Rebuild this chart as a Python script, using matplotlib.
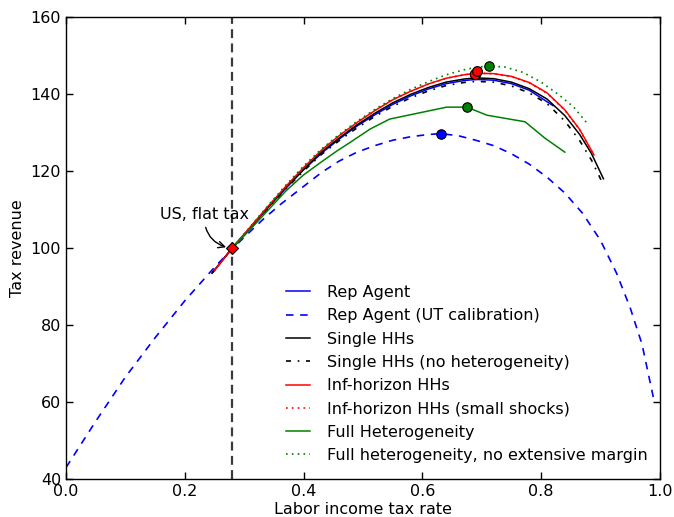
import matplotlib
matplotlib.use('Agg')
import matplotlib.pyplot as plt

# tax rate grids and revenue curves
rep_ut_x = [0.0, 0.05, 0.1, 0.15, 0.2, 0.25, 0.28, 0.3, 0.33, 0.36, 0.4, 0.43, 0.46, 0.49,
            0.52, 0.55, 0.58, 0.61, 0.631, 0.66, 0.69, 0.72, 0.75, 0.78, 0.81, 0.84, 0.87,
            0.9, 0.927, 0.95, 0.97, 0.99]
rep_ut_y = [43.0, 55.0, 66.5, 76.7, 86.3, 95.0, 99.8, 102.8, 107.2, 111.2, 116.0, 119.6,
            122.6, 124.9, 126.6, 128.0, 128.9, 129.5, 129.7, 129.2, 128.0, 126.6, 124.5,
            121.8, 118.4, 114.3, 109.0, 102.0, 93.5, 84.5, 75.0, 60.5]

single_x = [0.246, 0.28, 0.31, 0.34, 0.37, 0.4, 0.43, 0.46, 0.49, 0.52, 0.55, 0.58, 0.61,
            0.64, 0.67, 0.69, 0.72, 0.75, 0.78, 0.81, 0.84, 0.865, 0.885, 0.905]
single_y = [93.5, 100.0, 105.3, 110.6, 115.7, 120.5, 124.9, 128.6, 132.0, 135.0, 137.7,
            139.9, 141.7, 143.1, 143.9, 144.2, 144.0, 143.1, 141.4, 138.7, 134.4, 129.5,
            124.5, 118.0]
single_nohet_y = [93.5, 100.0, 105.1, 110.3, 115.3, 120.0, 124.3, 127.9, 131.2, 134.2,
                  136.8, 139.0, 140.8, 142.2, 143.0, 143.3, 143.1, 142.1, 140.3, 137.5,
                  133.0, 127.9, 122.8, 116.4]

rep_x = [0.246, 0.28, 0.31, 0.34, 0.37, 0.4, 0.43, 0.46, 0.49, 0.52, 0.55, 0.58, 0.61,
         0.64, 0.67, 0.69, 0.72, 0.75, 0.78, 0.82]
rep_y = [93.5, 100.0, 105.2, 110.5, 115.5, 120.3, 124.6, 128.3, 131.7, 134.6, 137.3,
         139.5, 141.3, 142.7, 143.5, 143.8, 143.6, 142.7, 141.0, 137.0]

inf_x = [0.25, 0.28, 0.31, 0.34, 0.37, 0.4, 0.43, 0.46, 0.49, 0.52, 0.55, 0.58, 0.61,
         0.64, 0.67, 0.69, 0.72, 0.75, 0.78, 0.81, 0.84, 0.865, 0.889]
inf_y = [94.2, 100.0, 105.4, 110.8, 116.0, 120.9, 125.4, 129.2, 132.6, 135.7, 138.5,
         140.7, 142.6, 144.1, 145.0, 145.4, 145.3, 144.6, 143.0, 140.3, 135.9, 130.8, 124.2]
inf_small_y = [94.2, 100.0, 105.4, 110.8, 116.0, 120.9, 125.4, 129.2, 132.6, 135.7, 138.5,
               140.7, 142.6, 144.1, 145.0, 145.4, 145.3, 144.5, 142.9, 140.2, 135.8,
               130.7, 124.1]

full_x = [0.28, 0.31, 0.34, 0.37, 0.4, 0.433, 0.456, 0.478, 0.512, 0.545, 0.641, 0.675,
          0.709, 0.773, 0.806, 0.84]
full_y = [100.0, 104.8, 109.8, 114.8, 119.0, 122.7, 125.2, 127.4, 130.9, 133.5, 136.6,
          136.6, 134.5, 132.8, 128.6, 124.9]

noext_x = [0.28, 0.31, 0.34, 0.37, 0.4, 0.43, 0.46, 0.49, 0.52, 0.55, 0.58, 0.61, 0.64,
           0.67, 0.69, 0.712, 0.74, 0.77, 0.8, 0.83, 0.855, 0.877]
noext_y = [100.0, 105.5, 111.0, 116.3, 121.3, 125.7, 129.5, 132.9, 136.0, 138.8, 141.2,
           143.2, 145.0, 146.3, 146.9, 147.3, 147.0, 145.6, 143.1, 139.8, 136.6, 132.5]

# revenue-maximising points
peak_names = ['rep_ut', 'full', 'noext', 'inf', 'inf_small']
peak_x = [0.631, 0.675, 0.712, 0.688, 0.692]
peak_y = [129.7, 136.6, 147.3, 145.3, 146.0]
peak_colors = ['blue', 'green', 'green', 'red', 'red']
peak_sizes = [6.8, 6.8, 6.8, 7.5, 7.0]

us_rate = 0.28
us_rev = 100.0

fig = plt.figure(figsize=(6.74, 5.17), dpi=100)
ax = fig.add_axes([0.098, 0.0735, 0.881, 0.8935])

lw = 1.1
ax.plot(rep_x, rep_y, color='blue', lw=lw, label='Rep Agent')
ax.plot(rep_ut_x, rep_ut_y, color='blue', lw=1.2, ls=(0, (4.5, 4)), label='Rep Agent (UT calibration)')
ax.plot(single_x, single_y, color='black', lw=lw, label='Single HHs')
ax.plot(single_x, single_nohet_y, color='black', lw=1.2, ls=(0, (3, 4, 1, 4)),
        label='Single HHs (no heterogeneity)')
ax.plot(inf_x, inf_y, color='red', lw=lw, label='Inf-horizon HHs')
ax.plot(inf_x, inf_small_y, color='red', lw=1.2, ls=(0, (1, 2.5)), label='Inf-horizon HHs (small shocks)')
ax.plot(full_x, full_y, color='green', lw=lw, label='Full Heterogeneity')
ax.plot(noext_x, noext_y, color='green', lw=1.2, ls=(0, (1, 2.5)),
        label='Full heterogeneity, no extensive margin')

for i in range(len(peak_names)):
    ax.plot(peak_x[i], peak_y[i], 'o', color=peak_colors[i], mec='black',
            ms=peak_sizes[i], mew=0.8, zorder=5 + i)

ax.axvline(us_rate, color='#3a3a3a', lw=1.6, ls=(0, (4, 2.4)), zorder=1)
ax.plot(us_rate, us_rev, 'D', color='red', mec='black', ms=6.5, mew=0.8, zorder=12)
ax.annotate('US, flat tax', xy=(us_rate - 0.006, us_rev), xytext=(0.233, 106.8),
            ha='center', va='bottom', fontsize=11.5,
            arrowprops=dict(arrowstyle='->', color='black', lw=1,
                            connectionstyle='arc3,rad=0.4', shrinkA=2, shrinkB=2))

ax.set_xlim(0.0, 1.0)
ax.set_ylim(40, 160)
ax.set_xticks([0.0, 0.2, 0.4, 0.6, 0.8, 1.0])
ax.set_yticks([40, 60, 80, 100, 120, 140, 160])
ax.tick_params(direction='in', top=True, right=True, length=5, width=1, labelsize=11.5)
ax.set_xlabel('Labor income tax rate', fontsize=11.5, labelpad=2)
ax.set_ylabel('Tax revenue', fontsize=11.5, labelpad=4)
for s in ax.spines.values():
    s.set_linewidth(1.0)

ax.legend(loc='lower right', bbox_to_anchor=(1.006, 0.0), frameon=False, fontsize=11.5,
          handlelength=1.5, labelspacing=0.52, handletextpad=1.06, borderaxespad=0.6)

fig.savefig('out.png', dpi=100, facecolor='white')
